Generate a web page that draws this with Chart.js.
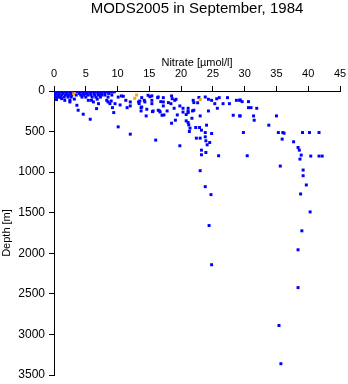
<!DOCTYPE html>
<html>
<head>
<meta charset="utf-8">
<script src="https://cdn.jsdelivr.net/npm/chart.js@4"></script>
<style>
  html, body { margin: 0; padding: 0; background: #fff; }
</style>
</head>
<body>
<canvas id="nitrateChart" width="348" height="384"></canvas>
<script>
// Título y etiquetas
const chartTitle = 'MODS2005 in September, 1984';
const xLabel = 'Nitrate [\u00b5mol/l]';
const yLabel = 'Depth [m]';

// Nitrato (x) y profundidad (y)
const nitrate = [
  0.1, 0.5, 0.9, 1.3, 1.7, 2.1, 2.5, 2.9, 3.6, 4.0, 4.4, 4.8, 5.2, 5.6, 6.0, 6.4, 6.8, 7.2, 7.6, 8.2, 8.8, 9.5,
  0.3, 0.8, 1.4, 2.0, 2.6, 4.0, 4.6, 5.1, 5.7, 6.3, 6.9, 7.4, 8.0, 8.6,
  0.2, 0.7, 1.2, 1.8, 2.3, 2.8, 3.5, 4.2, 4.7, 5.3, 5.8, 6.4, 7.0, 7.5, 8.0, 9.1,
  0.3, 0.7, 1.0, 1.6, 2.2, 2.7, 4.4, 5.0, 6.0, 6.6, 7.3, 8.5, 10.1,
  1.2, 1.7, 2.5, 5.4, 5.9, 8.3, 0.4, 3.2, 6.8,
  2.5, 3.6, 3.8, 4.6, 5.7, 6.7, 7.0, 6.2,
  10.1, 12.0, 9.4, 14.5, 14.6, 13.7, 13.4, 11.5, 12.0, 10.4, 9.0, 10.6, 12.0, 13.5, 15.1,
  9.1, 10.9, 11.3, 9.2, 8.5, 8.8, 9.6, 13.3, 13.7, 14.3, 15.4, 15.4, 15.6, 16.4, 16.4, 16.7, 17.2, 17.0, 14.8, 13.8,
  16.3, 17.2, 18.5, 14.2, 15.4, 16.8, 18.0, 18.4, 19.2, 19.0, 13.8, 15.5, 16.6, 17.2, 17.8, 18.9, 20.3, 21.1, 21.8,
  21.9, 22.0, 23.8, 24.3, 26.0, 27.3, 25.3, 26.6, 25.7, 24.3, 27.6, 28.7, 29.2, 30.6, 30.6, 28.2, 29.2,
  17.3, 19.4, 21.1, 23.0, 21.7, 19.1, 20.8, 18.5, 21.1, 21.2, 21.4, 21.3, 22.3, 22.9, 24.0, 23.2, 23.8, 24.8, 29.8,
  22.4, 23.0, 23.8, 23.9, 24.5, 24.1, 16.0, 19.8, 23.2, 23.9, 23.2, 25.9, 30.4, 23.0, 23.8, 24.7, 24.4, 24.8,
  19.8, 20.3, 21.1, 22.0, 20.8, 22.6, 18.6, 22.8, 24.8, 25.6, 29.6,
  29.3, 31.0, 31.9, 31.4, 35.0, 31.5, 33.8, 35.3, 36.0, 36.2, 39.1, 40.2, 41.7, 35.9, 37.7, 38.4, 38.6, 38.9, 38.7,
  40.4, 41.7, 42.2, 35.6, 39.2, 39.2, 39.7, 38.8, 40.3, 39.0, 38.4, 38.4, 35.4, 35.7, 29.3
];
const depth = [
  10, 10, 10, 10, 10, 10, 10, 10, 10, 10, 10, 10, 10, 10, 10, 10, 10, 10, 10, 10, 10, 10,
  30, 30, 30, 30, 30, 30, 30, 30, 30, 30, 30, 30, 30, 30,
  50, 50, 50, 50, 50, 50, 50, 50, 50, 50, 50, 50, 50, 50, 50, 50,
  75, 75, 75, 75, 75, 75, 75, 75, 75, 75, 75, 75, 75,
  94, 115, 115, 115, 115, 115, 105, 100, 100,
  135, 176, 237, 286, 348, 217, 156, 135,
  442, 532, 266, 307, 225, 246, 156, 205, 184, 172, 123, 61, 135, 123, 70,
  12, 65, 115, 205, 135, 156, 156, 135, 205, 135, 115, 60, 246, 74, 237, 258, 135, 299, 53, 82,
  82, 82, 61, 115, 156, 131, 143, 156, 102, 115, 197, 254, 246, 184, 246, 213, 213, 213, 246,
  115, 143, 74, 102, 82, 82, 156, 156, 213, 246, 156, 115, 115, 131, 205, 299, 307,
  295, 295, 266, 307, 336, 360, 368, 397, 389, 418, 458, 499, 450, 450, 421, 483, 512, 524, 512,
  581, 581, 565, 614, 635, 663, 605, 675, 729, 758, 786, 798, 798, 982, 1179, 1277, 1658, 2141,
  184, 260, 250, 237, 290, 145, 95, 80, 115, 96, 131,
  110, 205, 213, 307, 307, 360, 421, 512, 512, 520, 512, 512, 512, 593, 626, 696, 729, 790, 839,
  802, 802, 802, 925, 974, 1044, 1158, 1269, 1490, 1723, 1957, 2423, 2890, 3361, 307
];

// Puntos marcados en naranja
const flaggedNitrate = [3.1, 12.7, 13.0, 23.0];
const flaggedDepth = [35, 90, 50, 105];

const toPoints = (xs, ys) => xs.map((x, i) => ({ x: x, y: ys[i] }));

const fontFamily = '"Liberation Sans", Arial, Helvetica, sans-serif';

// Título centrado sobre el área del gráfico
const titlePlugin = {
  id: 'plotTitle',
  afterDraw(chart) {
    const area = chart.chartArea;
    const c = chart.ctx;
    c.save();
    c.font = '15px ' + fontFamily;
    c.fillStyle = '#000';
    c.textAlign = 'center';
    c.textBaseline = 'middle';
    c.fillText(chartTitle, (area.left + area.right) / 2, 9);
    c.restore();
  }
};

new Chart(document.getElementById('nitrateChart'), {
  type: 'scatter',
  data: {
    datasets: [
      {
        label: 'flagged',
        data: toPoints(flaggedNitrate, flaggedDepth),
        backgroundColor: '#ffa500',
        borderWidth: 0,
        pointStyle: 'rect',
        pointRadius: 2.1
      },
      {
        label: 'nitrate',
        data: toPoints(nitrate, depth),
        backgroundColor: '#0000ff',
        borderWidth: 0,
        pointStyle: 'rect',
        pointRadius: 2.1
      }
    ]
  },
  options: {
    responsive: false,
    animation: false,
    layout: { padding: { top: 51, right: 8, bottom: 9, left: 0 } },
    plugins: {
      legend: { display: false },
      tooltip: { enabled: false }
    },
    scales: {
      x: {
        type: 'linear',
        position: 'top',
        min: 0,
        max: 45,
        afterFit: s => { s.height = 40; s.paddingLeft = 0; s.paddingRight = 0; },
        ticks: { stepSize: 5, color: '#000', padding: 5, font: { family: fontFamily, size: 11 } },
        grid: { drawOnChartArea: false, drawTicks: true, tickLength: 5, color: '#000' },
        border: { color: '#000', width: 1 },
        title: { display: true, text: xLabel, color: '#000', padding: { top: 5, bottom: 0 }, font: { family: fontFamily, size: 11 } }
      },
      y: {
        type: 'linear',
        reverse: true,
        min: 0,
        max: 3500,
        afterFit: s => { s.width = 54; s.paddingTop = 0; s.paddingBottom = 0; },
        ticks: {
          stepSize: 500,
          color: '#000',
          padding: 4,
          font: { family: fontFamily, size: 12 },
          callback: v => String(v)
        },
        grid: { drawOnChartArea: false, drawTicks: true, tickLength: 5, color: '#000' },
        border: { color: '#000', width: 1 },
        title: { display: true, text: yLabel, color: '#000', padding: { top: 0, bottom: 2 }, font: { family: fontFamily, size: 11 } }
      }
    }
  },
  plugins: [titlePlugin]
});
</script>
</body>
</html>
